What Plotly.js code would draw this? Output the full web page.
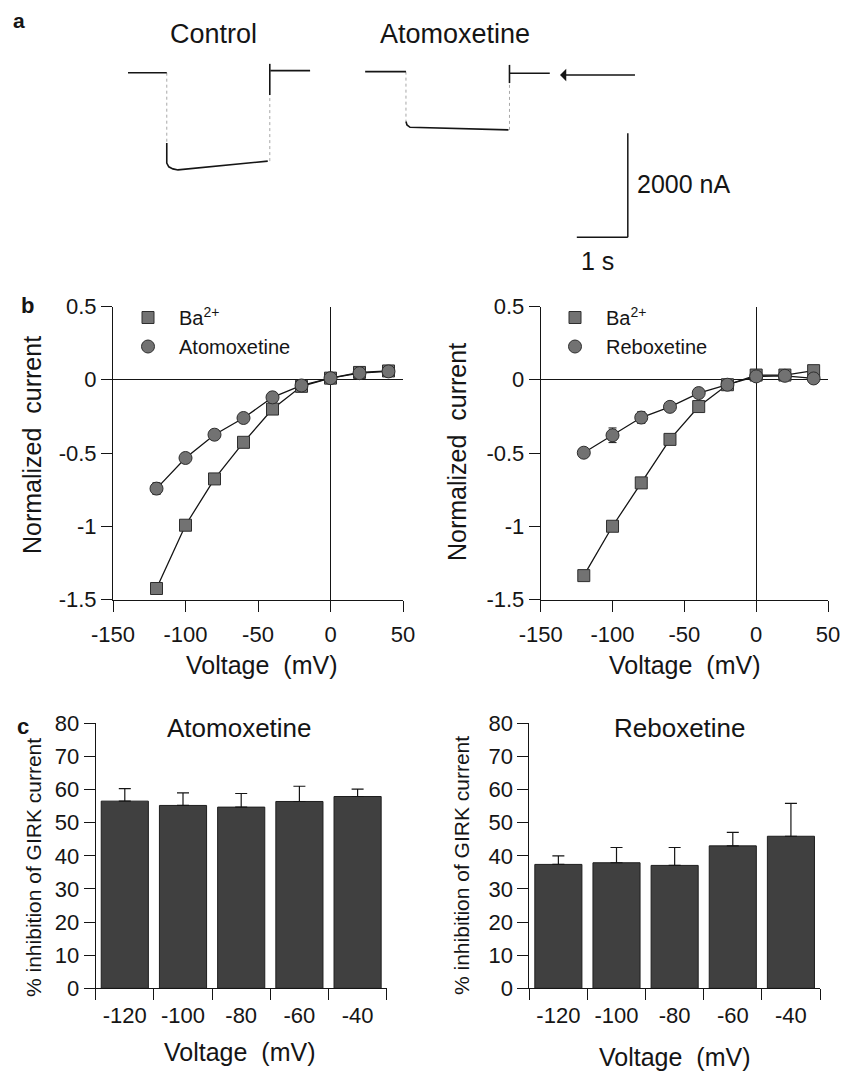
<!DOCTYPE html>
<html>
<head>
<meta charset="utf-8">
<script src="https://cdn.plot.ly/plotly-3.0.1.min.js"></script>
<style>
html,body{margin:0;padding:0;background:#fff;}
#chart{width:842px;height:1071px;}
</style>
</head>
<body>
<div id="chart"></div>
<script>
// ---------- DATA ----------
// Panel a: example current traces (time in s, current in nA)
var ctrlT = [2.51, 3.27, null, 3.27, 3.27, 3.31, 3.39, 3.49, 5.25, null, 5.29, 5.29, null, 5.30, 6.08];
var ctrlI = [0, 0, null, -1350, -1740, -1810, -1850, -1870, -1700, null, -430, 170, null, 40, 40];
var ctrlTransT = [3.27, 3.27, null, 5.29, 5.29];
var ctrlTransI = [0, -1350, null, -1700, -430];
var atoT = [7.16, 7.96, null, 7.96, 7.98, 8.04, 9.97, null, 9.99, 9.99, null, 10.0, 10.78];
var atoI = [20, 20, null, -940, -1005, -1050, -1100, null, -200, 150, null, -10, -10];
var atoTransT = [7.96, 7.96, null, 9.99, 9.99];
var atoTransI = [20, -940, null, -1100, -200];

// Panel b: I-V relations
var voltIV = [-120, -100, -80, -60, -40, -20, 0, 20, 40];
var baLeft = [-1.425, -0.993, -0.677, -0.427, -0.20, -0.045, 0.011, 0.05, 0.06];
var baLeftErr = [0.03, 0.02, 0.02, 0.02, 0.02, 0.01, 0.01, 0.01, 0.01];
var atomox = [-0.743, -0.534, -0.375, -0.261, -0.12, -0.039, 0.011, 0.045, 0.057];
var atomoxErr = [0.04, 0.03, 0.02, 0.02, 0.02, 0.01, 0.01, 0.01, 0.01];
var baRight = [-1.337, -1.0, -0.704, -0.407, -0.183, -0.034, 0.032, 0.032, 0.062];
var baRightErr = [0.02, 0.02, 0.02, 0.03, 0.02, 0.01, 0.02, 0.01, 0.02];
var reboxIV = [-0.498, -0.379, -0.258, -0.185, -0.091, -0.034, 0.023, 0.027, 0.009];
var reboxIVErr = [0.02, 0.05, 0.04, 0.02, 0.02, 0.01, 0.01, 0.01, 0.01];
var ivTickVals = [-150, -100, -50, 0, 50];
var ivTickText = ['-150', '-100', '-50', '0', '50'];
var curTickVals = [0.5, 0, -0.5, -1, -1.5];
var curTickText = ['0.5', '0', '-0.5', '-1', '-1.5'];

// Panel c: % inhibition
var voltCats = ['-120', '-100', '-80', '-60', '-40'];
var inhAtomox = [56.5, 55.2, 54.7, 56.4, 57.9];
var inhAtomoxErr = [3.8, 3.8, 4.1, 4.6, 2.2];
var inhRebox = [37.4, 37.9, 37.1, 43.0, 45.9];
var inhReboxErr = [2.6, 4.6, 5.4, 4.1, 9.9];

// ---------- STYLE / LAYOUT HELPERS ----------
var W = 842, H = 1071;
function px(x){ return x / W; }
function py(y){ return 1 - y / H; }
var FONT = 'Liberation Sans, Arial, Helvetica, sans-serif';
var INK = '#151515';
var MFILL = '#727272';
var MLINE = '#2e2e2e';
var BARC = '#404040';

var traces = [];

// Panel a
traces.push({x: ctrlTransT, y: ctrlTransI, xaxis: 'x5', yaxis: 'y5', mode: 'lines', showlegend: false,
  line: {color: '#a8a8a8', width: 1, dash: 'dot'}, hoverinfo: 'skip'});
traces.push({x: atoTransT, y: atoTransI, xaxis: 'x5', yaxis: 'y5', mode: 'lines', showlegend: false,
  line: {color: '#a8a8a8', width: 1, dash: 'dot'}, hoverinfo: 'skip'});
traces.push({x: ctrlT, y: ctrlI, xaxis: 'x5', yaxis: 'y5', mode: 'lines', showlegend: false,
  line: {color: INK, width: 1.6}, connectgaps: false});
traces.push({x: atoT, y: atoI, xaxis: 'x5', yaxis: 'y5', mode: 'lines', showlegend: false,
  line: {color: INK, width: 1.6}, connectgaps: false});

function ivTrace(y, err, sym, xa, ya, size){
  return {x: voltIV, y: y, xaxis: xa, yaxis: ya, mode: 'lines+markers', showlegend: false,
    line: {color: INK, width: 1.3},
    marker: {symbol: sym, size: size, color: MFILL, line: {color: MLINE, width: 1}},
    error_y: {type: 'data', array: err, visible: true, color: INK, thickness: 1, width: 4},
    cliponaxis: false};
}
traces.push(ivTrace(baLeft, baLeftErr, 'square', 'x', 'y', 12));
traces.push(ivTrace(atomox, atomoxErr, 'circle', 'x', 'y', 13));
traces.push(ivTrace(baRight, baRightErr, 'square', 'x2', 'y2', 12));
traces.push(ivTrace(reboxIV, reboxIVErr, 'circle', 'x2', 'y2', 13));

// legend entries (markers only)
function legTrace(name, sym, size, leg, xa, ya){
  return {x: [null], y: [null], xaxis: xa, yaxis: ya, mode: 'markers', name: name, legend: leg,
    marker: {symbol: sym, size: size, color: MFILL, line: {color: MLINE, width: 1}}};
}
traces.push(legTrace('Ba<sup>2+</sup>', 'square', 12, 'legend', 'x', 'y'));
traces.push(legTrace('Atomoxetine', 'circle', 13, 'legend', 'x', 'y'));
traces.push(legTrace('Ba<sup>2+</sup>', 'square', 12, 'legend2', 'x2', 'y2'));
traces.push(legTrace('Reboxetine', 'circle', 13, 'legend2', 'x2', 'y2'));

// Panel c bars
function barTrace(vals, err, xa, ya){
  return {type: 'bar', x: voltCats, y: vals, xaxis: xa, yaxis: ya, showlegend: false,
    marker: {color: BARC, line: {color: '#1e1e1e', width: 1}},
    error_y: {type: 'data', symmetric: false, array: err, arrayminus: err.map(function(){return 0;}),
      visible: true, color: INK, thickness: 1.2, width: 6}};
}
traces.push(barTrace(inhAtomox, inhAtomoxErr, 'x3', 'y3'));
traces.push(barTrace(inhRebox, inhReboxErr, 'x4', 'y4'));

var tickFont = {family: FONT, size: 22, color: INK};
function ivX(dom, anchor){
  return {domain: dom, anchor: anchor, range: [-150, 50], tickmode: 'array', tickvals: ivTickVals, ticktext: ivTickText,
    ticks: 'outside', ticklen: 11, tickwidth: 1, tickcolor: INK, showline: true, linecolor: INK, linewidth: 1,
    showgrid: false, zeroline: true, zerolinecolor: INK, zerolinewidth: 1, tickfont: tickFont, fixedrange: true,
    ticklabeloverflow: 'allow', ticklabelstandoff: 4};
}
function ivY(dom, anchor){
  return {domain: dom, anchor: anchor, range: [-1.5, 0.5], tickmode: 'array', tickvals: curTickVals, ticktext: curTickText,
    ticks: 'outside', ticklen: 11, tickwidth: 1, tickcolor: INK, showline: true, linecolor: INK, linewidth: 1,
    showgrid: false, zeroline: true, zerolinecolor: INK, zerolinewidth: 1, tickfont: tickFont, fixedrange: true,
    ticklabeloverflow: 'allow'};
}
function barX(dom, anchor){
  return {domain: dom, anchor: anchor, type: 'category', range: [-0.5, 4.5], tickson: 'boundaries',
    ticks: 'outside', ticklen: 11, tickwidth: 1, tickcolor: INK, showline: true, linecolor: INK, linewidth: 1,
    showgrid: false, zeroline: false, tickfont: tickFont, fixedrange: true, ticklabelstandoff: 7};
}
function barY(dom, anchor){
  return {domain: dom, anchor: anchor, range: [0, 80], dtick: 10, tick0: 0,
    ticks: 'outside', ticklen: 11, tickwidth: 1, tickcolor: INK, showline: true, linecolor: INK, linewidth: 1,
    showgrid: false, zeroline: false, tickfont: tickFont, fixedrange: true};
}

var ivYDom = [py(599.5), py(306.5)];
var barYDom = [py(988.3), py(723.3)];

function ann(text, x, y, size, opts){
  var a = {text: text, x: px(x), y: py(y), xref: 'paper', yref: 'paper', showarrow: false,
    font: {family: FONT, size: size, color: INK}, xanchor: 'center', yanchor: 'middle'};
  if (opts) for (var k in opts) a[k] = opts[k];
  return a;
}

var annotations = [
  ann('<b>a</b>', 19, 20, 21),
  ann('<b>b</b>', 27, 305, 22),
  ann('<b>c</b>', 23, 726, 22),
  ann('Control', 213, 34, 27),
  ann('Atomoxetine', 455, 34, 27),
  ann('2000 nA', 635, 184, 25, {xanchor: 'left'}),
  ann('1 s', 597, 261, 25),
  ann('Voltage  (mV)', 261, 665, 25),
  ann('Voltage  (mV)', 684, 665, 25),
  ann('Normalized  current', 32, 445, 25, {textangle: -90}),
  ann('Normalized  current', 457, 452, 25, {textangle: -90}),
  ann('Atomoxetine', 239, 728, 26),
  ann('Reboxetine', 680, 728, 26),
  ann('Voltage  (mV)', 239, 1052, 25),
  ann('Voltage  (mV)', 674, 1057, 25),
  ann('% inhibition of GIRK current', 33, 868, 21, {textangle: -90}),
  ann('% inhibition of GIRK current', 461, 866, 21, {textangle: -90}),
  // arrow pointing at baseline in panel a
  {x: 10.98, y: -44, ax: 12.48, ay: -44, xref: 'x5', yref: 'y5', axref: 'x5', ayref: 'y5',
    showarrow: true, arrowhead: 1, arrowsize: 1.6, arrowwidth: 1.3, arrowcolor: INK, text: ''}
];

var shapes = [
  // scale bar: 1 s horizontal, 2000 nA vertical
  {type: 'line', xref: 'x5', yref: 'y5', x0: 11.31, x1: 12.31, y0: -3165, y1: -3165, line: {color: INK, width: 1.5}},
  {type: 'line', xref: 'x5', yref: 'y5', x0: 12.31, x1: 12.31, y0: -3165, y1: -1165, line: {color: INK, width: 1.5}}
];

var layout = {
  width: W, height: H,
  margin: {l: 0, r: 0, t: 0, b: 0},
  paper_bgcolor: '#ffffff', plot_bgcolor: 'rgba(0,0,0,0)',
  font: {family: FONT, color: INK},
  bargap: 0.19,
  xaxis: ivX([px(113), px(403)], 'y'),
  yaxis: ivY(ivYDom, 'x'),
  xaxis2: ivX([px(540.7), px(828)], 'y2'),
  yaxis2: ivY(ivYDom, 'x2'),
  xaxis3: barX([px(95.7), px(386.7)], 'y3'),
  yaxis3: barY(barYDom, 'x3'),
  xaxis4: barX([px(529.3), px(820)], 'y4'),
  yaxis4: barY(barYDom, 'x4'),
  xaxis5: {domain: [0, 1], anchor: 'y5', range: [0, W / 51], visible: false, fixedrange: true},
  yaxis5: {domain: [py(280), 1], anchor: 'x5', range: [-3987, 1398], visible: false, fixedrange: true},
  legend: {x: px(117), y: py(298), xanchor: 'left', yanchor: 'top', bgcolor: 'rgba(0,0,0,0)',
    font: {family: FONT, size: 20, color: INK}, itemwidth: 52, tracegroupgap: 0},
  legend2: {x: px(544), y: py(298), xanchor: 'left', yanchor: 'top', bgcolor: 'rgba(0,0,0,0)',
    font: {family: FONT, size: 20, color: INK}, itemwidth: 52, tracegroupgap: 0},
  annotations: annotations,
  shapes: shapes
};

Plotly.newPlot('chart', traces, layout, {staticPlot: true, displayModeBar: false});
</script>
</body>
</html>
